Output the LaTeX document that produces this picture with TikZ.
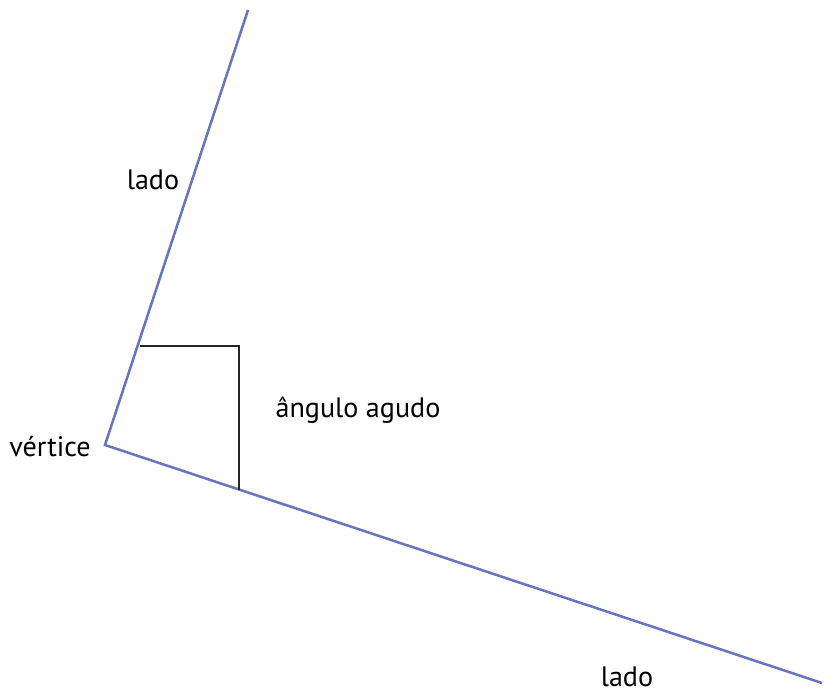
\documentclass[tikz,border=0pt]{standalone}
\usepackage{fontspec}
\setmainfont{PT Sans}
\usepackage{xcolor}
\usetikzlibrary{positioning}
\definecolor{raio}{RGB}{102,117,190}

\begin{document}
\begin{tikzpicture}[
	x=0.025cm, y=-0.025cm,
	font=\fontsize{20}{22}\selectfont,
	lado/.style={line width=1.8pt, raio},
	marca/.style={line width=1.8pt, black!85, line join=miter},
	rot/.style={inner sep=0pt, anchor=base},
]
\useasboundingbox (0,0) rectangle (825,692);
\coordinate (v) at (105,445);
\coordinate (p1) at (248,10);
\coordinate (p2) at (822,683);
\coordinate (m1) at (140,346);
\coordinate (mc) at (239,346);
\coordinate (m2) at (239,490);
\draw[lado] (p1)--(v)--(p2);
\draw[marca] (m1)--(mc)--(m2);
\node[rot] (l1) at (153,189) {lado};
\node[rot] (ag) at (358,417) {ângulo agudo};
\node[rot] (vt) at (50,456) {vértice};
\node[rot] (l2) at (627,686) {lado};
\end{tikzpicture}
\end{document}
